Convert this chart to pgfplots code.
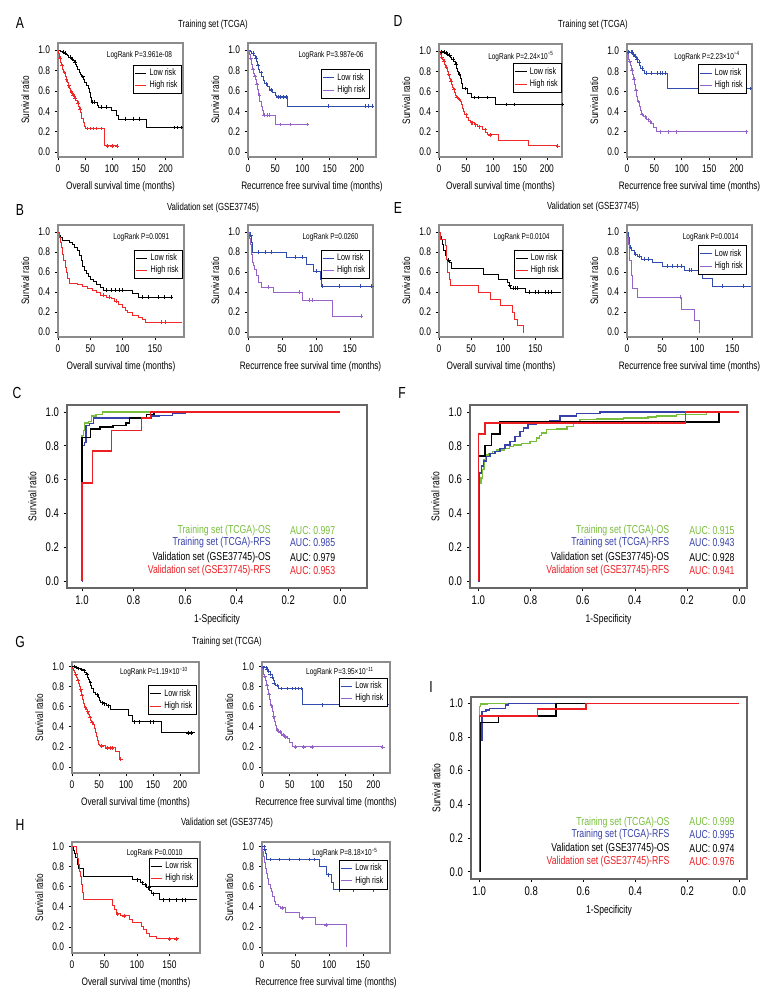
\documentclass[border=0pt]{standalone}
\usepackage{pgfplots}
\pgfplotsset{compat=1.18}
\usepackage{fontspec}
\setmainfont{Liberation Sans}[FakeStretch=0.76]
\definecolor{kmred}{RGB}{240,40,40}
\definecolor{kmblue}{RGB}{50,75,175}
\definecolor{kmpurple}{RGB}{150,100,200}
\definecolor{rocgreen}{RGB}{120,190,60}
\definecolor{rocblue}{RGB}{55,65,170}
\definecolor{rocred}{RGB}{235,30,35}
\newcommand{\fs}[1]{\fontsize{#1}{#1}\selectfont}

\pgfplotsset{
  base/.style={scale only axis, anchor=north west, tick align=outside,
    xtick pos=bottom, ytick pos=left, major tick length=2.5pt,
    tick style={black, line width=0.5pt},
    /pgf/number format/assume math mode=true},
  km/.style={base, axis line style={draw=black!45, line width=0.9pt},
    xmin=0, ymin=-0.05, ymax=1.07, ytick={0,0.2,0.4,0.6,0.8,1},
    yticklabel style={/pgf/number format/.cd, fixed, fixed zerofill, precision=1},
    ticklabel style={font=\fs{8.3}}, label style={font=\fs{8.1}},
    ylabel={Survival ratio},
    legend style={font=\fs{7.1}, draw=black, line width=0.5pt, inner sep=0.9pt,
      row sep=-1.5pt, cells={anchor=west}},
    legend image code/.code={\draw[##1, line width=0.7pt] (0cm,0cm) -- (0.3cm,0cm);}},
  kml/.style={const plot, line width=0.75pt},
  cens/.style={only marks, mark=+, mark size=1.4pt, mark options={line width=0.45pt}, forget plot},
  roc/.style={base, axis line style={draw=black!60, line width=1.1pt}, x dir=reverse,
    xtick={0,0.2,0.4,0.6,0.8,1}, ytick={0,0.2,0.4,0.6,0.8,1},
    ticklabel style={font=\fs{9.4}, /pgf/number format/.cd, fixed, fixed zerofill, precision=1},
    label style={font=\fs{8.4}}, xlabel={1-Specificity}, ylabel={Survival ratio}},
  rocl/.style={const plot, line width=1.05pt},
}

\begin{document}
\begin{tikzpicture}
\path[use as bounding box] (0,0) rectangle (585pt,-756pt);

% panel letters and titles
\begin{scope}[every node/.style={font=\fs{12}}]
\node at (15pt,-17.25pt) {A};
\node at (298.5pt,-15.75pt) {D};
\node at (15pt,-157.5pt) {B};
\node at (298.5pt,-156pt) {E};
\node at (12.75pt,-294.75pt) {C};
\node at (301.5pt,-294.75pt) {F};
\node at (15pt,-481.5pt) {G};
\node at (15pt,-618.75pt) {H};
\node at (323.25pt,-515.25pt) {I};
\end{scope}
\begin{scope}[every node/.style={font=\fs{7.7}}]
\node at (159.75pt,-18.75pt) {Training set (TCGA)};
\node at (444.75pt,-18.75pt) {Training set (TCGA)};
\node at (159.75pt,-156pt) {Validation set (GSE37745)};
\node at (444.75pt,-155.25pt) {Validation set (GSE37745)};
\node at (170.25pt,-481.5pt) {Training set (TCGA)};
\node at (170.25pt,-617.25pt) {Validation set (GSE37745)};
\end{scope}

%-- A left
\begin{axis}[km, at={(43.5pt,-32.25pt)}, width=93.75pt, height=85.5pt, xmax=232,
  xtick={0,50,100,150,200}, xlabel={Overall survival time (months)},
  legend style={at={(0.99,0.81)}, anchor=north east}]
\addplot[kml, black] coordinates {(0,1)(5,0.99)(8,0.98)(12,0.97)(15,0.96)(18,0.95)(20,0.93)(23,0.92)(26,0.91)(29,0.90)(31,0.88)(33,0.86)(35,0.84)(37,0.81)(39,0.78)(41,0.76)(44,0.74)(47,0.71)(50,0.68)(53,0.65)(56,0.62)(58,0.58)(60,0.53)(62,0.49)(73,0.46)(76,0.44)(100,0.41)(108,0.36)(112,0.32)(165,0.24)(228,0.24)};
\addlegendentry{Low risk}
\addplot[kml, kmred] coordinates {(0,1)(1,0.97)(2,0.94)(3,0.92)(5,0.88)(7,0.85)(9,0.81)(11,0.78)(13,0.74)(15,0.71)(17,0.68)(19,0.65)(21,0.62)(24,0.59)(27,0.56)(30,0.53)(33,0.51)(36,0.48)(38,0.45)(40,0.42)(42,0.39)(44,0.33)(47,0.29)(49,0.25)(51,0.23)(87,0.06)(110,0.06)};
\addlegendentry{High risk}
\addplot[cens, black] coordinates {(10,0.98)(14,0.97)(22,0.93)(27,0.91)(32,0.88)(46,0.74)(64,0.49)(68,0.49)(80,0.44)(90,0.44)(125,0.32)(140,0.32)(150,0.32)(215,0.24)(222,0.24)(228,0.24)};
\addplot[cens, kmred] coordinates {(4,0.92)(8,0.85)(12,0.78)(16,0.71)(20,0.65)(25,0.59)(28,0.56)(32,0.53)(37,0.48)(41,0.42)(55,0.23)(60,0.23)(65,0.23)(72,0.23)(80,0.23)(92,0.06)(100,0.06)(110,0.06)};
\node[anchor=east, font=\fs{6.4}] at (rel axis cs:0.95,0.89) {LogRank P=3.961e-08};
\end{axis}

%-- A right
\begin{axis}[km, at={(186pt,-32.25pt)}, width=96pt, height=85.5pt, xmax=235,
  xtick={0,50,100,150,200}, xlabel={Recurrence free survival time (months)},
  legend style={at={(0.95,0.77)}, anchor=north east}]
\addplot[kml, kmblue] coordinates {(0,1)(4,0.99)(7,0.97)(10,0.95)(13,0.92)(16,0.89)(18,0.85)(20,0.81)(22,0.78)(25,0.74)(28,0.70)(31,0.67)(35,0.64)(40,0.61)(45,0.58)(50,0.55)(52,0.54)(73,0.45)(228,0.45)};
\addlegendentry{Low risk}
\addplot[kml, kmpurple] coordinates {(0,1)(2,0.96)(4,0.92)(6,0.86)(8,0.81)(10,0.77)(12,0.74)(14,0.71)(16,0.66)(18,0.61)(20,0.56)(22,0.50)(24,0.45)(26,0.41)(28,0.36)(51,0.27)(108,0.27)};
\addlegendentry{High risk}
\addplot[cens, kmblue] coordinates {(9,0.97)(15,0.92)(19,0.85)(24,0.78)(33,0.67)(42,0.61)(55,0.54)(60,0.54)(65,0.54)(70,0.54)(148,0.45)(215,0.45)(220,0.45)(228,0.45)};
\addplot[cens, kmpurple] coordinates {(5,0.92)(9,0.81)(13,0.74)(17,0.66)(21,0.56)(30,0.36)(35,0.36)(40,0.36)(60,0.27)(78,0.27)(108,0.27)};
\node[anchor=east, font=\fs{6.4}] at (rel axis cs:0.94,0.89) {LogRank P=3.987e-06};
\end{axis}

%-- D left
\begin{axis}[km, at={(329.25pt,-33pt)}, width=92.25pt, height=84.75pt, xmax=228,
  xtick={0,50,100,150,200}, xlabel={Overall survival time (months)},
  legend style={at={(1.0,0.83)}, anchor=north east}]
\addplot[kml, black] coordinates {(0,1)(8,0.99)(12,0.98)(15,0.97)(18,0.96)(21,0.94)(24,0.92)(27,0.90)(30,0.87)(33,0.83)(35,0.80)(37,0.77)(40,0.73)(42,0.68)(43,0.63)(53,0.58)(60,0.54)(105,0.47)(228,0.47)};
\addlegendentry{Low risk}
\addplot[kml, kmred] coordinates {(0,1)(2,0.97)(4,0.94)(6,0.92)(8,0.90)(10,0.87)(12,0.84)(15,0.80)(17,0.77)(19,0.73)(21,0.70)(23,0.67)(25,0.64)(27,0.62)(29,0.59)(31,0.56)(33,0.54)(36,0.52)(40,0.50)(42,0.47)(44,0.43)(46,0.40)(48,0.37)(51,0.34)(55,0.31)(58,0.29)(65,0.27)(72,0.25)(80,0.22)(87,0.19)(89,0.17)(110,0.11)(165,0.06)(220,0.06)};
\addlegendentry{High risk}
\addplot[cens, black] coordinates {(5,0.99)(9,0.99)(10,0.99)(13,0.98)(16,0.97)(20,0.96)(26,0.92)(32,0.87)(38,0.77)(48,0.63)(65,0.54)(72,0.54)(90,0.54)(125,0.47)(140,0.47)(228,0.47)};
\addplot[cens, kmred] coordinates {(5,0.94)(9,0.90)(14,0.84)(18,0.77)(22,0.70)(28,0.62)(34,0.54)(38,0.52)(50,0.37)(60,0.29)(62,0.29)(68,0.27)(75,0.25)(85,0.22)(95,0.17)(220,0.06)};
\node[anchor=east, font=\fs{6.4}] at (rel axis cs:0.97,0.89) {LogRank P=2.24×10\textsuperscript{−5}};
\end{axis}

%-- D right
\begin{axis}[km, at={(470.25pt,-33pt)}, width=93.75pt, height=84.75pt, xmax=228,
  xtick={0,50,100,150,200}, xlabel={Recurrence free survival time (months)},
  legend style={at={(0.96,0.82)}, anchor=north east}]
\addplot[kml, kmblue] coordinates {(0,1)(5,0.99)(10,0.97)(14,0.95)(17,0.92)(20,0.89)(23,0.86)(25,0.83)(28,0.81)(32,0.78)(73,0.63)(227,0.63)};
\addlegendentry{Low risk}
\addplot[kml, kmpurple] coordinates {(0,1)(1,0.97)(2,0.94)(3,0.92)(4,0.90)(6,0.86)(8,0.81)(10,0.77)(12,0.72)(14,0.67)(16,0.61)(18,0.55)(20,0.50)(22,0.45)(24,0.41)(26,0.37)(30,0.35)(35,0.32)(40,0.30)(45,0.28)(49,0.24)(54,0.20)(217,0.20)};
\addlegendentry{High risk}
\addplot[cens, kmblue] coordinates {(3,0.99)(7,0.99)(9,0.99)(12,0.97)(15,0.95)(18,0.92)(22,0.89)(27,0.83)(35,0.78)(45,0.78)(55,0.78)(60,0.78)(65,0.78)(70,0.78)(148,0.63)(215,0.63)(225,0.63)};
\addplot[cens, kmpurple] coordinates {(5,0.90)(9,0.81)(13,0.72)(17,0.61)(21,0.50)(28,0.37)(33,0.35)(38,0.32)(42,0.30)(60,0.20)(75,0.20)(90,0.20)(217,0.20)};
\node[anchor=east, font=\fs{6.4}] at (rel axis cs:0.94,0.89) {LogRank P=2.23×10\textsuperscript{−4}};
\end{axis}

%-- B left
\begin{axis}[km, at={(43.5pt,-168.75pt)}, width=94.5pt, height=84pt, xmax=195,
  xtick={0,50,100,150}, xlabel={Overall survival time (months)},
  legend style={at={(0.99,0.78)}, anchor=north east}]
\addplot[kml, black] coordinates {(0,1)(2,0.97)(4,0.95)(7,0.92)(18,0.90)(22,0.88)(26,0.85)(30,0.82)(33,0.77)(36,0.72)(38,0.66)(41,0.62)(44,0.59)(47,0.56)(50,0.53)(55,0.51)(60,0.48)(65,0.45)(70,0.42)(116,0.39)(124,0.35)(175,0.35)};
\addlegendentry{Low risk}
\addplot[kml, kmred] coordinates {(0,1)(2,0.95)(4,0.90)(5,0.85)(7,0.78)(9,0.72)(11,0.65)(13,0.60)(15,0.54)(18,0.49)(30,0.48)(38,0.46)(45,0.44)(53,0.42)(60,0.40)(65,0.37)(75,0.35)(83,0.34)(88,0.31)(93,0.28)(100,0.25)(105,0.22)(108,0.20)(115,0.17)(125,0.15)(130,0.13)(135,0.10)(192,0.10)};
\addlegendentry{High risk}
\addplot[cens, black] coordinates {(75,0.42)(82,0.42)(88,0.42)(95,0.42)(100,0.42)(130,0.35)(140,0.35)(155,0.35)(165,0.35)(175,0.35)};
\addplot[cens, kmred] coordinates {(70,0.37)(80,0.35)(90,0.31)(160,0.10)(166,0.10)};
\node[anchor=east, font=\fs{6.4}] at (rel axis cs:0.92,0.89) {LogRank P=0.0091};
\end{axis}

%-- B right
\begin{axis}[km, at={(186pt,-168.75pt)}, width=93.75pt, height=84pt, xmax=184,
  xtick={0,50,100,150}, xlabel={Recurrence free survival time (months)},
  legend style={at={(0.97,0.78)}, anchor=north east}]
\addplot[kml, kmblue] coordinates {(0,1)(3,0.97)(5,0.90)(6,0.80)(57,0.75)(86,0.68)(96,0.61)(106,0.53)(108,0.46)(182,0.46)};
\addlegendentry{Low risk}
\addplot[kml, kmpurple] coordinates {(0,1)(2,0.94)(3,0.88)(5,0.78)(7,0.70)(8,0.67)(10,0.63)(13,0.57)(15,0.50)(20,0.45)(37,0.40)(80,0.32)(125,0.16)(167,0.16)};
\addlegendentry{High risk}
\addplot[cens, kmblue] coordinates {(4,0.97)(15,0.80)(25,0.80)(35,0.80)(70,0.75)(80,0.75)(100,0.61)(110,0.46)(135,0.46)(165,0.46)(182,0.46)};
\addplot[cens, kmpurple] coordinates {(30,0.45)(75,0.40)(90,0.32)(95,0.32)(167,0.16)};
\node[anchor=east, font=\fs{6.4}] at (rel axis cs:0.92,0.89) {LogRank P=0.0260};
\end{axis}

%-- E left
\begin{axis}[km, at={(329.25pt,-168.75pt)}, width=93pt, height=84pt, xmax=193,
  xtick={0,50,100,150}, xlabel={Overall survival time (months)},
  legend style={at={(1.0,0.78)}, anchor=north east}]
\addplot[kml, black] coordinates {(0,1)(2,0.96)(4,0.93)(6,0.88)(7,0.82)(10,0.77)(12,0.73)(14,0.72)(17,0.70)(19,0.64)(70,0.58)(93,0.53)(107,0.50)(109,0.47)(112,0.44)(135,0.40)(190,0.40)};
\addlegendentry{Low risk}
\addplot[kml, kmred] coordinates {(0,1)(2,0.93)(10,0.87)(11,0.80)(12,0.73)(14,0.60)(16,0.53)(18,0.47)(62,0.40)(80,0.33)(95,0.27)(115,0.20)(117,0.13)(122,0.07)(131,0.0)(131.5,0.0)};
\addlegendentry{High risk}
\addplot[cens, black] coordinates {(15,0.72)(110,0.47)(115,0.44)(118,0.44)(122,0.44)(140,0.40)(150,0.40)(155,0.40)(165,0.40)(170,0.40)(175,0.40)};
\node[anchor=east, font=\fs{6.4}] at (rel axis cs:0.93,0.89) {LogRank P=0.0104};
\end{axis}

%-- E right
\begin{axis}[km, at={(470.25pt,-168.75pt)}, width=93.75pt, height=84pt, xmax=178,
  xtick={0,50,100,150}, xlabel={Recurrence free survival time (months)},
  legend style={at={(0.96,0.82)}, anchor=north east}]
\addplot[kml, kmblue] coordinates {(0,1)(2,0.95)(3,0.90)(4,0.85)(7,0.82)(10,0.78)(15,0.76)(20,0.73)(36,0.70)(50,0.66)(82,0.62)(105,0.58)(108,0.54)(122,0.46)(177,0.46)};
\addlegendentry{Low risk}
\addplot[kml, kmpurple] coordinates {(0,1)(1,0.95)(2,0.88)(4,0.72)(6,0.57)(8,0.44)(15,0.35)(77,0.32)(78,0.23)(96,0.12)(103,0.0)(103.5,0.0)};
\addlegendentry{High risk}
\addplot[cens, kmblue] coordinates {(5,0.85)(12,0.78)(17,0.76)(25,0.73)(30,0.73)(58,0.66)(65,0.66)(72,0.66)(78,0.66)(88,0.62)(92,0.62)(135,0.46)(165,0.46)};
\addplot[cens, kmpurple] coordinates {(76,0.35)};
\node[anchor=east, font=\fs{6.4}] at (rel axis cs:0.93,0.89) {LogRank P=0.0014};
\end{axis}

%-- C
\begin{axis}[roc, at={(50.25pt,-303.75pt)}, width=225pt, height=137.25pt,
  xmin=-0.105, xmax=1.058, ymin=-0.041, ymax=1.041]
\addplot[rocl, rocgreen] coordinates {(1,0)(1,0.86)(0.995,0.89)(0.99,0.935)(0.975,0.945)(0.962,0.975)(0.945,0.985)(0.92,1.0)(0,1.0)};
\addplot[rocl, rocblue] coordinates {(1,0)(0.997,0.80)(0.99,0.82)(0.985,0.92)(0.97,0.93)(0.955,0.965)(0.73,0.975)(0.7,0.98)(0.65,0.99)(0.6,1.0)(0.58,1.0)};
\addplot[rocl, black] coordinates {(1,0)(1,0.85)(0.968,0.90)(0.93,0.91)(0.88,0.92)(0.83,0.935)(0.815,0.965)(0.75,0.985)(0.72,1.0)(0.5,1.0)};
\addplot[rocl, rocred] coordinates {(1,0)(1,0.58)(0.96,0.77)(0.885,0.89)(0.77,0.965)(0.735,1.0)(0,1.0)};
\begin{scope}[every node/.style={anchor=east, font=\fs{8.6}}]
\node[text=rocgreen] at (axis cs:0.25,0.30) {Training set (TCGA)-OS};
\node[text=rocblue] at (axis cs:0.25,0.225) {Training set (TCGA)-RFS};
\node[text=black] at (axis cs:0.25,0.142) {Validation set (GSE37745)-OS};
\node[text=rocred] at (axis cs:0.25,0.065) {Validation set (GSE37745)-RFS};
\node[text=rocgreen] at (axis cs:0,0.30) {AUC: 0.997};
\node[text=rocblue] at (axis cs:0,0.225) {AUC: 0.985};
\node[text=black] at (axis cs:0,0.142) {AUC: 0.979};
\node[text=rocred] at (axis cs:0,0.065) {AUC: 0.953};
\end{scope}
\end{axis}

%-- F
\begin{axis}[roc, at={(352.5pt,-303.75pt)}, width=207.75pt, height=137.25pt,
  xmin=-0.03, xmax=1.032, ymin=-0.041, ymax=1.041]
\addplot[rocl, rocgreen] coordinates {(1,0)(0.996,0.58)(0.99,0.61)(0.983,0.66)(0.978,0.72)(0.972,0.745)(0.962,0.755)(0.945,0.765)(0.93,0.775)(0.9,0.785)(0.88,0.795)(0.866,0.805)(0.834,0.815)(0.802,0.825)(0.777,0.845)(0.765,0.86)(0.757,0.875)(0.738,0.895)(0.7,0.9)(0.66,0.915)(0.636,0.935)(0.61,0.955)(0.547,0.958)(0.444,0.965)(0.35,0.97)(0.316,0.975)(0.24,0.985)(0.125,0.995)(0.06,1.0)(0.04,1.0)};
\addplot[rocl, rocblue] coordinates {(1,0)(0.996,0.64)(0.987,0.68)(0.98,0.71)(0.968,0.735)(0.955,0.755)(0.936,0.765)(0.917,0.785)(0.898,0.805)(0.879,0.825)(0.86,0.855)(0.84,0.885)(0.828,0.905)(0.81,0.925)(0.777,0.935)(0.725,0.95)(0.687,0.975)(0.623,0.99)(0.534,1.0)(0.023,1.0)};
\addplot[rocl, black] coordinates {(1,0)(1,0.74)(0.975,0.80)(0.95,0.87)(0.917,0.94)(0.077,1.0)(0.0,1.0)};
\addplot[rocl, rocred] coordinates {(1,0)(1,0.87)(0.975,0.935)(0.205,1.0)(0,1.0)};
\begin{scope}[every node/.style={anchor=east, font=\fs{8.6}}]
\node[text=rocgreen] at (axis cs:0.25,0.30) {Training set (TCGA)-OS};
\node[text=rocblue] at (axis cs:0.25,0.225) {Training set (TCGA)-RFS};
\node[text=black] at (axis cs:0.25,0.142) {Validation set (GSE37745)-OS};
\node[text=rocred] at (axis cs:0.25,0.065) {Validation set (GSE37745)-RFS};
\node[text=rocgreen] at (axis cs:0,0.30) {AUC: 0.915};
\node[text=rocblue] at (axis cs:0,0.225) {AUC: 0.943};
\node[text=black] at (axis cs:0,0.142) {AUC: 0.928};
\node[text=rocred] at (axis cs:0,0.065) {AUC: 0.941};
\end{scope}
\end{axis}

%-- G left
\begin{axis}[km, at={(54pt,-496.5pt)}, width=95.25pt, height=83.25pt, xmax=235,
  ymin=-0.06, ymax=1.045,
  xtick={0,50,100,150,200}, xlabel={Overall survival time (months)},
  legend style={at={(0.98,0.79)}, anchor=north east}]
\addplot[kml, black] coordinates {(0,1)(5,0.99)(10,0.98)(15,0.97)(20,0.96)(23,0.94)(26,0.92)(29,0.89)(31,0.87)(33,0.84)(35,0.81)(37,0.78)(40,0.74)(44,0.72)(49,0.69)(51,0.66)(53,0.64)(58,0.63)(63,0.61)(72,0.57)(105,0.51)(112,0.45)(165,0.34)(228,0.34)};
\addlegendentry{Low risk}
\addplot[kml, kmred] coordinates {(0,1)(1,0.98)(2,0.96)(4,0.94)(6,0.92)(8,0.89)(10,0.86)(12,0.83)(14,0.80)(15,0.77)(17,0.74)(18,0.71)(20,0.67)(22,0.63)(24,0.59)(26,0.57)(28,0.55)(30,0.52)(32,0.49)(34,0.46)(36,0.44)(39,0.42)(41,0.38)(43,0.34)(45,0.30)(47,0.26)(49,0.22)(50,0.21)(62,0.19)(81,0.15)(88,0.08)(91,0.08)};
\addlegendentry{High risk}
\addplot[cens, black] coordinates {(4,1.0)(8,0.99)(12,0.98)(18,0.97)(22,0.96)(28,0.92)(34,0.84)(46,0.72)(56,0.64)(60,0.63)(67,0.61)(115,0.45)(125,0.45)(145,0.45)(150,0.45)(215,0.34)(220,0.34)};
\addplot[cens, kmred] coordinates {(7,0.92)(11,0.86)(16,0.77)(19,0.71)(25,0.59)(29,0.55)(33,0.49)(37,0.44)(55,0.21)(65,0.19)(70,0.19)(75,0.19)(90,0.08)};
\node[anchor=east, font=\fs{6.4}] at (rel axis cs:0.95,0.91) {LogRank P=1.19×10\textsuperscript{−10}};
\end{axis}

%-- G right
\begin{axis}[km, at={(196.5pt,-496.5pt)}, width=96pt, height=83.25pt, xmax=230,
  ymin=-0.06, ymax=1.045,
  xtick={0,50,100,150,200}, xlabel={Recurrence free survival time (months)},
  legend style={at={(0.98,0.86)}, anchor=north east}]
\addplot[kml, kmblue] coordinates {(0,1)(5,0.99)(8,0.97)(12,0.95)(15,0.92)(18,0.89)(20,0.86)(22,0.83)(25,0.81)(30,0.78)(73,0.62)(227,0.62)};
\addlegendentry{Low risk}
\addplot[kml, kmpurple] coordinates {(0,1)(1,0.97)(2,0.94)(3,0.92)(4,0.90)(6,0.86)(8,0.81)(10,0.77)(12,0.72)(14,0.67)(16,0.61)(18,0.55)(20,0.50)(22,0.45)(24,0.41)(26,0.37)(30,0.35)(35,0.32)(40,0.30)(45,0.28)(49,0.24)(54,0.20)(217,0.20)};
\addlegendentry{High risk}
\addplot[cens, kmblue] coordinates {(3,0.99)(7,0.99)(9,0.97)(12,0.95)(15,0.92)(18,0.89)(22,0.83)(27,0.81)(35,0.78)(45,0.78)(55,0.78)(60,0.78)(65,0.78)(70,0.78)(108,0.62)(148,0.62)(215,0.62)(225,0.62)};
\addplot[cens, kmpurple] coordinates {(5,0.90)(9,0.81)(13,0.72)(17,0.61)(21,0.50)(28,0.37)(33,0.35)(38,0.32)(42,0.30)(60,0.20)(75,0.20)(90,0.20)(217,0.20)};
\node[anchor=east, font=\fs{6.4}] at (rel axis cs:0.91,0.91) {LogRank P=3.95×10\textsuperscript{−11}};
\end{axis}

%-- H left
\begin{axis}[km, at={(54pt,-631.5pt)}, width=96pt, height=83.25pt, xmax=197,
  ymin=-0.06, ymax=1.045,
  xtick={0,50,100,150}, xlabel={Overall survival time (months)},
  legend style={at={(0.98,0.86)}, anchor=north east}]
\addplot[kml, black] coordinates {(0,1)(2,0.96)(4,0.93)(6,0.89)(8,0.82)(10,0.78)(18,0.70)(93,0.67)(106,0.64)(109,0.62)(114,0.59)(119,0.56)(123,0.53)(134,0.47)(192,0.47)};
\addlegendentry{Low risk}
\addplot[kml, kmred] coordinates {(0,1)(7,0.93)(9,0.88)(10,0.82)(12,0.75)(13,0.70)(14,0.62)(16,0.54)(18,0.47)(62,0.41)(65,0.37)(69,0.33)(75,0.31)(88,0.27)(93,0.24)(107,0.20)(110,0.17)(115,0.13)(120,0.10)(130,0.08)(165,0.08)};
\addlegendentry{High risk}
\addplot[cens, black] coordinates {(100,0.67)(108,0.64)(113,0.62)(118,0.59)(125,0.53)(140,0.47)(150,0.47)(160,0.47)(170,0.47)(175,0.47)};
\addplot[cens, kmred] coordinates {(70,0.33)(80,0.31)(150,0.08)(160,0.08)};
\node[anchor=east, font=\fs{6.4}] at (rel axis cs:0.90,0.90) {LogRank P=0.0010};
\end{axis}

%-- H right
\begin{axis}[km, at={(196.5pt,-631.5pt)}, width=96pt, height=83.25pt, xmax=190,
  ymin=-0.06, ymax=1.045,
  xtick={0,50,100,150}, xlabel={Recurrence free survival time (months)},
  legend style={at={(0.98,0.84)}, anchor=north east}]
\addplot[kml, kmblue] coordinates {(0,1)(3,0.97)(5,0.93)(6,0.87)(86,0.80)(96,0.72)(103,0.64)(106,0.57)(182,0.57)};
\addlegendentry{Low risk}
\addplot[kml, kmpurple] coordinates {(0,1)(1,0.95)(2,0.90)(4,0.84)(5,0.78)(6,0.73)(8,0.68)(10,0.62)(12,0.58)(14,0.55)(16,0.50)(18,0.45)(20,0.42)(24,0.40)(28,0.39)(35,0.34)(56,0.29)(80,0.22)(125,0.0)(125.5,0.0)};
\addlegendentry{High risk}
\addplot[cens, kmblue] coordinates {(3,1.0)(4,0.97)(12,0.87)(25,0.87)(40,0.87)(55,0.87)(70,0.87)(78,0.87)(98,0.72)(115,0.57)(135,0.57)(165,0.57)};
\addplot[cens, kmpurple] coordinates {(30,0.39)(60,0.29)(95,0.22)};
\node[anchor=east, font=\fs{6.4}] at (rel axis cs:0.94,0.90) {LogRank P=8.18×10\textsuperscript{−5}};
\end{axis}

%-- I
\begin{axis}[roc, at={(353.25pt,-522.75pt)}, width=207pt, height=136.5pt,
  xmin=-0.03, xmax=1.032, ymin=-0.043, ymax=1.037]
\addplot[rocl, rocgreen] coordinates {(1,0)(1,0.98)(0.995,0.995)(0.97,1.0)(0.88,1.0)};
\addplot[rocl, rocblue] coordinates {(1,0)(0.995,0.78)(0.99,0.95)(0.975,0.96)(0.96,0.97)(0.91,0.97)(0.9,0.99)(0.888,1.0)(0.69,1.0)};
\addplot[rocl, black] coordinates {(1,0)(0.997,0.885)(0.927,0.925)(0.705,1.0)(0.59,1.0)};
\addplot[rocl, rocred] coordinates {(1,0)(1,0.925)(0.776,0.965)(0.59,1.0)(0,1.0)};
\begin{scope}[every node/.style={anchor=east, font=\fs{8.6}}]
\node[text=rocgreen] at (axis cs:0.25,0.295) {Training set (TCGA)-OS};
\node[text=rocblue] at (axis cs:0.25,0.218) {Training set (TCGA)-RFS};
\node[text=black] at (axis cs:0.25,0.135) {Validation set (GSE37745)-OS};
\node[text=rocred] at (axis cs:0.25,0.058) {Validation set (GSE37745)-RFS};
\node[text=rocgreen] at (axis cs:0,0.295) {AUC: 0.999};
\node[text=rocblue] at (axis cs:0,0.218) {AUC: 0.995};
\node[text=black] at (axis cs:0,0.135) {AUC: 0.974};
\node[text=rocred] at (axis cs:0,0.058) {AUC: 0.976};
\end{scope}
\end{axis}

\end{tikzpicture}
\end{document}
